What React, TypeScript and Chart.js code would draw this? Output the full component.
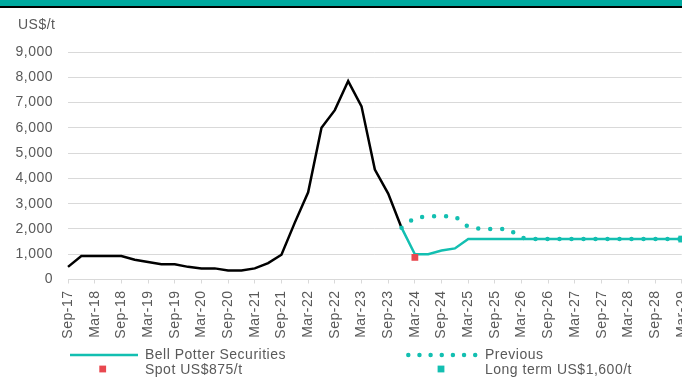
import { useEffect, useRef } from 'react';
import { Chart, registerables } from 'chart.js';

Chart.register(...registerables);

const N = null;

const categories = [
  'Sep-17', 'Dec-17', 'Mar-18', 'Jun-18', 'Sep-18', 'Dec-18', 'Mar-19', 'Jun-19', 'Sep-19', 'Dec-19',
  'Mar-20', 'Jun-20', 'Sep-20', 'Dec-20', 'Mar-21', 'Jun-21', 'Sep-21', 'Dec-21', 'Mar-22', 'Jun-22',
  'Sep-22', 'Dec-22', 'Mar-23', 'Jun-23', 'Sep-23', 'Dec-23', 'Mar-24', 'Jun-24', 'Sep-24', 'Dec-24',
  'Mar-25', 'Jun-25', 'Sep-25', 'Dec-25', 'Mar-26', 'Jun-26', 'Sep-26', 'Dec-26', 'Mar-27', 'Jun-27',
  'Sep-27', 'Dec-27', 'Mar-28', 'Jun-28', 'Sep-28', 'Dec-28', 'Mar-29',
];

const history = [
  500, 925, 925, 925, 925, 780, 690, 600, 600, 500,
  440, 440, 360, 360, 440, 650, 980, 2250, 3450, 6000,
  6700, 7850, 6850, 4350, 3400, 2050, N, N, N, N,
  N, N, N, N, N, N, N, N, N, N,
  N, N, N, N, N, N, N,
];

const bellPotter = [
  N, N, N, N, N, N, N, N, N, N,
  N, N, N, N, N, N, N, N, N, N,
  N, N, N, N, N, 2050, 1000, 1000, 1150, 1230,
  1600, 1600, 1600, 1600, 1600, 1600, 1600, 1600, 1600, 1600,
  1600, 1600, 1600, 1600, 1600, 1600, 1600,
];

const previous = [
  N, N, N, N, N, N, N, N, N, N,
  N, N, N, N, N, N, N, N, N, N,
  N, N, N, N, N, 2050, 2450, 2500, 2500, 2500,
  2080, 2000, 2000, 2000, 1650, 1600, 1600, 1600, 1600, 1600,
  1600, 1600, 1600, 1600, 1600, 1600, 1600,
];

const spot = [
  N, N, N, N, N, N, N, N, N, N,
  N, N, N, N, N, N, N, N, N, N,
  N, N, N, N, N, N, 875, N, N, N,
  N, N, N, N, N, N, N, N, N, N,
  N, N, N, N, N, N, N,
];

const longTerm = [
  N, N, N, N, N, N, N, N, N, N,
  N, N, N, N, N, N, N, N, N, N,
  N, N, N, N, N, N, N, N, N, N,
  N, N, N, N, N, N, N, N, N, N,
  N, N, N, N, N, N, 1600,
];

const TEAL = '#13BFB1';
const BAND = '#00A99F';
const RED = '#E8484F';
const GREY_TEXT = '#595959';
const GRID = '#D9D9D9';
const FONT = '"Liberation Sans", Arial, sans-serif';
const FS = 14;
const SPACING = '0.5px';

const spacingPlugin = {
  id: 'spacing',
  beforeLayout(chart: any) {
    chart.ctx.letterSpacing = SPACING;
  },
  beforeDraw(chart: any) {
    chart.ctx.letterSpacing = SPACING;
  },
};

const decorPlugin = {
  id: 'decor',
  afterDraw(chart: any) {
    const ctx = chart.ctx as CanvasRenderingContext2D;
    const ds = chart.data.datasets;
    ctx.save();
    (ctx as any).letterSpacing = SPACING;
    ctx.font = `${FS}px ${FONT}`;
    ctx.fillStyle = GREY_TEXT;
    ctx.textBaseline = 'middle';
    ctx.textAlign = 'left';
    // unit label
    ctx.fillText('US$/t', 18, 25.5);

    const r1 = 355;
    const r2 = 370.5;
    // Bell Potter line sample
    ctx.strokeStyle = TEAL;
    ctx.lineWidth = 2.5;
    ctx.beginPath();
    ctx.moveTo(70, r1);
    ctx.lineTo(138, r1);
    ctx.stroke();
    ctx.fillText(ds[1].label, 145, r1);

    // Previous dotted sample
    ctx.setLineDash([0, 11.15]);
    ctx.lineCap = 'round';
    ctx.lineWidth = 4.5;
    ctx.beginPath();
    ctx.moveTo(408.3, r1);
    ctx.lineTo(475.5, r1);
    ctx.stroke();
    ctx.setLineDash([]);
    ctx.fillText(ds[2].label, 485, r1);

    // Spot marker
    ctx.fillStyle = RED;
    ctx.fillRect(102.7 - 3.4, r2 - 1.5 - 3.4, 6.8, 6.8);
    ctx.fillStyle = GREY_TEXT;
    ctx.fillText(ds[3].label, 145, r2);

    // Long term marker
    ctx.fillStyle = TEAL;
    ctx.fillRect(441 - 3.4, r2 - 1.5 - 3.4, 6.8, 6.8);
    ctx.fillStyle = GREY_TEXT;
    ctx.fillText(ds[4].label, 485, r2);
    ctx.restore();
  },
};

export default function App() {
  const ref = useRef<HTMLCanvasElement>(null);

  useEffect(() => {
    const chart = new Chart(ref.current as HTMLCanvasElement, {
      type: 'line',
      data: {
        labels: categories,
        datasets: [
          {
            label: 'History',
            data: history,
            borderColor: '#000000',
            borderWidth: 2.5,
            pointRadius: 0,
            tension: 0,
            order: 4,
          },
          {
            label: 'Bell Potter Securities',
            data: bellPotter,
            borderColor: TEAL,
            borderWidth: 2.5,
            pointRadius: 0,
            tension: 0,
            order: 3,
          },
          {
            label: 'Previous',
            data: previous,
            borderColor: TEAL,
            borderWidth: 4.5,
            borderDash: [0, 12],
            borderCapStyle: 'round',
            pointRadius: 0,
            tension: 0,
            order: 2,
          },
          {
            label: 'Spot US$875/t',
            data: spot,
            showLine: false,
            pointStyle: 'rect',
            pointRadius: 4.8,
            pointBackgroundColor: RED,
            pointBorderWidth: 0,
            borderColor: RED,
            clip: false,
            order: 0,
          },
          {
            label: 'Long term US$1,600/t',
            data: longTerm,
            showLine: false,
            pointStyle: 'rect',
            pointRadius: 4.8,
            pointBackgroundColor: TEAL,
            pointBorderWidth: 0,
            borderColor: TEAL,
            clip: false,
            order: 1,
          },
        ],
      },
      options: {
        animation: false,
        responsive: true,
        maintainAspectRatio: false,
        layout: { padding: { left: 0, right: 720 - 681.7, top: 52, bottom: 38.5 } },
        font: { family: FONT, size: FS },
        plugins: {
          legend: { display: false },
          tooltip: { enabled: false },
        },
        scales: {
          x: {
            type: 'category',
            offset: false,
            grid: {
              drawOnChartArea: false,
              drawTicks: true,
              tickLength: 4,
              lineWidth: 1,
              tickColor: (c: any) => (c.index % 2 === 0 ? GRID : 'rgba(0,0,0,0)'),
            },
            border: { display: true, color: GRID, width: 1 },
            ticks: {
              autoSkip: false,
              maxRotation: 90,
              minRotation: 90,
              padding: 7,
              color: GREY_TEXT,
              font: { family: FONT, size: FS },
              callback: (_v: any, i: number) => (i % 2 === 0 ? categories[i] : ''),
            },
            afterFit: (s: any) => {
              s.height = 62;
            },
          },
          y: {
            min: 0,
            max: 9000,
            ticks: {
              stepSize: 1000,
              padding: 15,
              color: GREY_TEXT,
              font: { family: FONT, size: FS },
              callback: (v: any) => Number(v).toLocaleString('en-US'),
            },
            grid: { color: GRID, drawTicks: false, lineWidth: 1 },
            border: { display: false },
            afterFit: (s: any) => {
              s.width = 68;
            },
          },
        },
      } as any,
      plugins: [spacingPlugin, decorPlugin],
    });
    return () => chart.destroy();
  }, []);

  return (
    <div
      style={{
        position: 'fixed',
        left: 0,
        top: 0,
        width: 682,
        height: 380,
        overflow: 'hidden',
        background: '#ffffff',
      }}
    >
      <div style={{ position: 'absolute', left: 0, top: 0, width: 720, height: 380 }}>
        <canvas ref={ref} />
      </div>
      <div style={{ position: 'absolute', left: 0, top: 0, width: 682, height: 6, background: BAND }} />
      <div style={{ position: 'absolute', left: 0, top: 6, width: 682, height: 2, background: '#000000' }} />
    </div>
  );
}
